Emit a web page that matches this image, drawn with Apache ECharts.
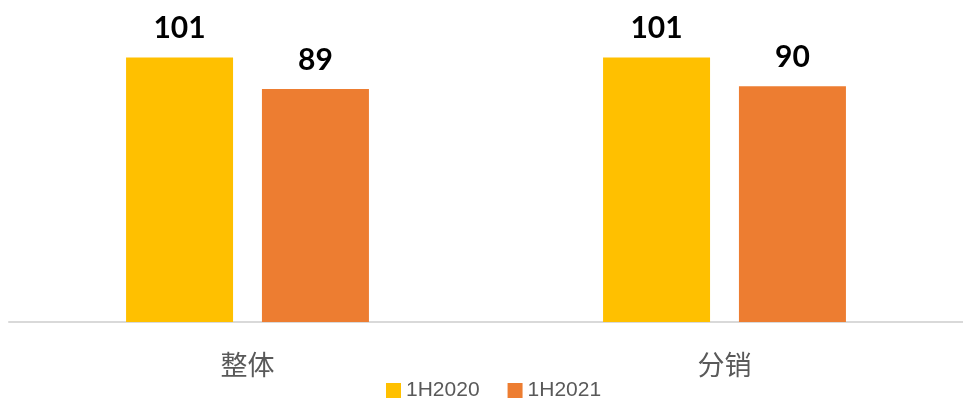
<!DOCTYPE html>
<html>
<head>
<meta charset="utf-8">
<script src="https://cdn.jsdelivr.net/npm/echarts@6/dist/echarts.min.js"></script>
<style>
  html, body { margin: 0; padding: 0; background: #ffffff; }
  #chart { width: 963px; height: 399px; }
</style>
</head>
<body>
<div id="chart"></div>
<script>
// Half-year comparison, two channels
const categories = ['整体', '分销'];
const seriesNames = ['1H2020', '1H2021'];
const values2020 = [101, 101];
const values2021 = [89, 90];
const colors = ['#FFC000', '#ED7D31'];

const chart = echarts.init(document.getElementById('chart'), null, { renderer: 'canvas' });

const valueLabel = {
  show: true,
  position: 'top',
  distance: 14,
  color: '#000000',
  fontFamily: 'Lato, "Noto Sans", sans-serif',
  fontWeight: 'bold',
  fontSize: 30
};

chart.setOption({
  animation: false,
  backgroundColor: '#ffffff',
  color: colors,
  grid: { left: 9, right: -5, top: 34, bottom: 77, containLabel: false },
  legend: {
    data: seriesNames,
    left: 381,
    top: 375,
    itemWidth: 15,
    itemHeight: 15,
    itemGap: 28,
    icon: 'rect',
    textStyle: {
      color: '#595959',
      fontSize: 21,
      fontFamily: '"Liberation Sans", Arial, sans-serif'
    }
  },
  xAxis: {
    type: 'category',
    data: categories,
    axisLine: { show: true, lineStyle: { color: '#D9D9D9', width: 2 } },
    axisTick: { show: false },
    axisLabel: {
      color: '#595959',
      fontSize: 27,
      margin: 29,
      fontFamily: '"Noto Sans CJK SC", sans-serif'
    }
  },
  yAxis: {
    type: 'value',
    min: 0,
    max: 110,
    show: false,
    splitLine: { show: false }
  },
  series: [
    {
      name: seriesNames[0],
      type: 'bar',
      data: values2020,
      barWidth: 107,
      barGap: '27%',
      label: valueLabel
    },
    {
      name: seriesNames[1],
      type: 'bar',
      data: values2021,
      barWidth: 107,
      barGap: '27%',
      label: valueLabel
    }
  ]
});
</script>
</body>
</html>
